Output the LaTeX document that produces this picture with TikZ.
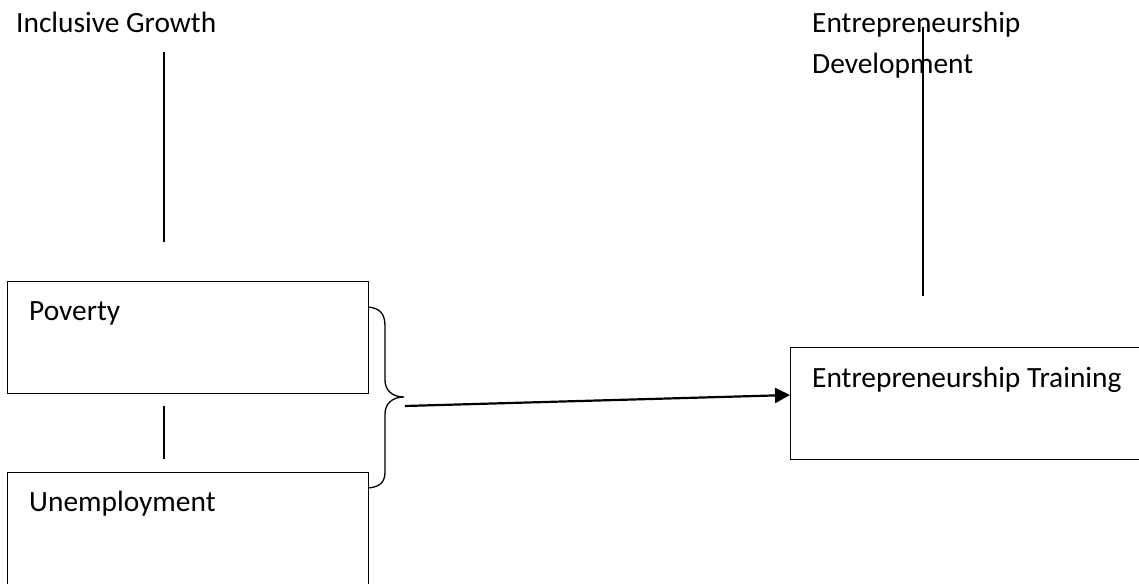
\documentclass[tikz,border=0pt]{standalone}
\usepackage{fontspec}
\setmainfont{Carlito}
\usetikzlibrary{arrows.meta}
\begin{document}
\begin{tikzpicture}[x=1pt,y=-1pt,
  box/.style={draw, line width=1.3pt, inner sep=0pt, anchor=north west},
  lbl/.style={inner sep=0pt, anchor=base west, font=\fontsize{29.4}{35}\selectfont},
  rule/.style={line width=1.3pt},
  link/.style={line width=2.2pt, -{Triangle[length=15pt,width=15pt]}}]
\useasboundingbox (0,0) rectangle (1139,583);
\clip (0,0) rectangle (1139,583);
\fill[white] (0,0) rectangle (1139,583);
% boxes
\node[box, minimum width=361pt, minimum height=112pt] (pov) at (7,281) {};
\node[box, minimum width=361pt, minimum height=140pt] (unemp) at (7,472) {};
\node[box, minimum width=360pt, minimum height=112pt] (train) at (790,347) {};
% labels
\node[lbl] (ig) at (16,33) {Inclusive Growth};
\node[lbl] (ed1) at (812,33) {Entrepreneurship};
\node[lbl] (ed2) at (812,74) {Development};
\node[lbl] (povt) at (29,320) {Poverty};
\node[lbl] (unt) at (29,511) {Unemployment};
\node[lbl] (trt) at (812,387) {Entrepreneurship Training};
% free lines
\coordinate (l1a) at (164,52);  \coordinate (l1b) at (164,242);
\coordinate (l2a) at (164,406); \coordinate (l2b) at (164,459);
\coordinate (l3a) at (923,27);  \coordinate (l3b) at (923,296);
\draw[rule] (l1a) -- (l1b);
\draw[rule] (l2a) -- (l2b);
\draw[rule] (l3a) -- (l3b);
% brace
\coordinate (tip) at (404,397);
\draw[rule] (368,307) .. controls (380,308) and (385,314) .. (385,326)
  -- (385,380) .. controls (385,390) and (392,397) .. (tip)
  .. controls (392,397) and (385,404) .. (385,414)
  -- (385,472) .. controls (385,482) and (380,487) .. (368,488);
% arrow
\coordinate (as) at (405,406);
\draw[link] (as) -- (train.west |- 0,395);
\end{tikzpicture}
\end{document}
